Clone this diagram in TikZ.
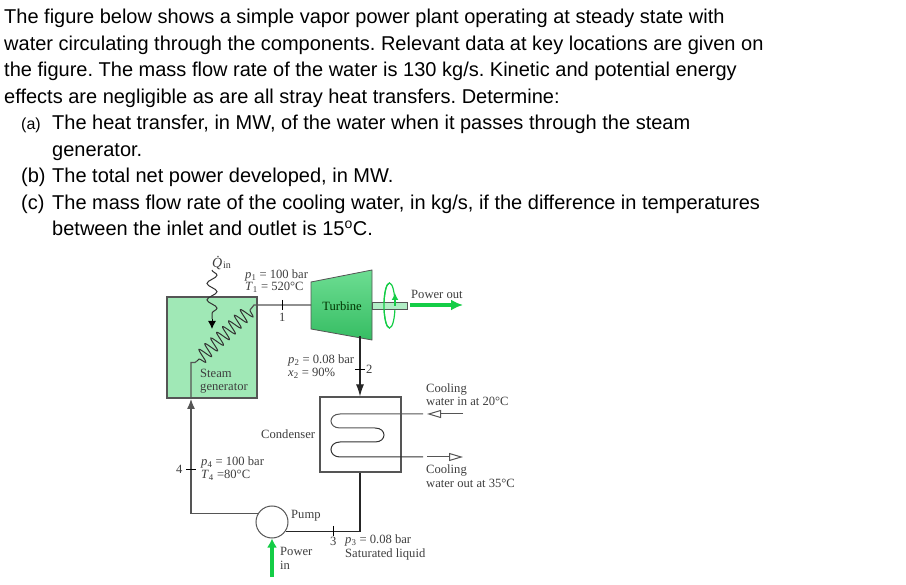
\documentclass[tikz,border=0pt]{standalone}
\usepackage{fontspec}
\setmainfont{Liberation Sans}
\newfontfamily\serifface{Liberation Serif}
\usetikzlibrary{calc,positioning,arrows.meta,decorations.pathmorphing}
\definecolor{sgreen}{RGB}{160,232,182}
\definecolor{tgreen}{RGB}{60,210,110}
\definecolor{pgreen}{RGB}{20,205,70}
\definecolor{lblgray}{RGB}{62,62,62}
\definecolor{linegray}{RGB}{85,85,85}
\tikzset{
  para/.style={anchor=base west,inner sep=0pt,yshift=-0.8pt,font=\fontsize{20}{22}\selectfont\frenchspacing},
  lbl/.style={anchor=base west,inner sep=0pt,yshift=-0.8pt,text=lblgray,font=\serifface\fontsize{12.6}{14}\selectfont},
  pipe/.style={linegray,line width=1.2pt},
  tick/.style={black,line width=0.8pt},
  powerarrow/.style={-{Latex[length=12pt,width=11pt]},pgreen,line width=3.4pt},
  openhead/.style={-{Triangle[open,length=14pt,width=8pt]},linegray,line width=1pt}
}
\begin{document}
\begin{tikzpicture}[x=1pt,y=-1pt,>=Latex]
  \useasboundingbox[fill=white] (0,0) rectangle (906,585);
  % problem text
  \node[para] (txta) at (4,23) {The figure below shows a simple vapor power plant operating at steady state with};
  \node[para] (txtb) at (4,50) {water circulating through the components. Relevant data at key locations are given on};
  \node[para] (txtc) at (4,76) {the figure. The mass flow rate of the water is 130 kg/s. Kinetic and potential energy};
  \node[para] (txtd) at (4,103) {effects are negligible as are all stray heat transfers. Determine:};
  \node[para,font=\fontsize{16}{20}\selectfont] (txte) at (21,129) {(a)};
  \node[para] (txtf) at (52,129) {The heat transfer, in MW, of the water when it passes through the steam};
  \node[para] (txtg) at (52,156) {generator.};
  \node[para] (txth) at (21,182) {(b)};
  \node[para] (txti) at (52,182) {The total net power developed, in MW.};
  \node[para] (txtk) at (21,209) {(c)};
  \node[para] (txtl) at (52,209) {The mass flow rate of the cooling water, in kg/s, if the difference in temperatures};
  \node[para] (txtj) at (52,235) {between the inlet and outlet is 15\textsuperscript{o}C.};

  % steam generator
  \node[draw=linegray,line width=1.2pt,fill=sgreen,minimum width=90pt,minimum height=101pt,inner sep=0pt] (gen) at (212,347.5) {};
  \node[lbl] (genl) at (200,377) {Steam};
  \node[lbl] (genm) at (200,390) {generator};

  % turbine
  \coordinate (tl) at (311,305);
  \coordinate (tb) at (360,336.5);
  \shade[top color=tgreen!75!white,middle color=tgreen,bottom color=tgreen!90!black,draw=linegray,line width=0.8pt]
    (311,282) -- (372,270) -- (372,340) -- (311,329) -- cycle;
  \node[lbl,anchor=center,text=black!80!green] (turb) at (342,305) {Turbine};
  \draw[pgreen,line width=1.2pt] (389.5,305.5) ellipse [x radius=5.5,y radius=22.5];
  \fill[white!60!tgreen,draw=linegray,line width=0.8pt] (372,302) rectangle (407,309);
  \begin{scope}
    \clip (375,275) rectangle (389.5,335);
    \draw[pgreen,line width=1.2pt] (389.5,305.5) ellipse [x radius=5.5,y radius=22.5];
  \end{scope}
  \draw[pgreen,line width=1.4pt,-{Latex[length=7pt,width=7pt]}] (395,306) -- (395,293);
  \coordinate (powa) at (410,305);
  \coordinate (powb) at (463,305);
  \draw[powerarrow] (powa) -- (powb);
  \node[lbl] (powl) at (411,298) {Power out};

  % condenser
  \node[draw=linegray,line width=1.2pt,minimum width=81pt,minimum height=75pt,inner sep=0pt] (cond) at (360.5,434.5) {};
  \node[lbl] (condl) at (261,438) {Condenser};
  \coordinate (cina) at (423,414);
  \coordinate (cinb) at (427,414);
  \coordinate (cinc) at (463,414);
  \coordinate (couta) at (423,457);
  \coordinate (coutb) at (427,457);
  \coordinate (coutc) at (463,457);
  \draw[linegray,line width=1pt] (cina) -- (340,414) .. controls (328,414) and (328,428) .. (340,428) -- (375,428);
  \draw[black!80,line width=1pt] (375,428) .. controls (387,428) and (387,442) .. (375,442) -- (340,442) .. controls (328,442) and (328,457) .. (340,457) -- (couta);
  \draw[openhead] (cinc) -- (cinb);
  \draw[openhead] (coutb) -- (coutc);
  \node[lbl] (cina1) at (426,392) {Cooling};
  \node[lbl] (cina2) at (426,405) {water in at 20°C};
  \node[lbl] (cout1) at (426,473) {Cooling};
  \node[lbl] (cout2) at (426,487) {water out at 35°C};

  % pump
  \node[draw=linegray,line width=1pt,circle,minimum size=32pt,inner sep=0pt] (pump) at (272,522) {};
  \node[lbl] (pumpl) at (291,518) {Pump};
  \coordinate (pinb) at (272,577);
  \draw[powerarrow,-{Latex[length=9pt,width=10pt]}] (pinb) -- (pump.south);
  \node[lbl] (pinl) at (280,555) {Power};
  \node[lbl] (pinm) at (280,569) {in};

  % pipes
  \coordinate (coila) at (250,310);
  \coordinate (coilb) at (197,361);
  \coordinate (gena) at (191,399);
  \draw[pipe] (tl) -- (254,305) -- (coila);
  \draw[black!80,line width=1pt,decorate,decoration={snake,amplitude=7pt,segment length=8.2pt}] (coila) -- (coilb);
  \draw[pipe] (coilb) -- (195,362.5) -- (191,362.5) -- (gen.south -| gena);
  \draw[pipe,-{Latex[length=10pt,width=8pt]}] (pump.150) -| (gena);
  \draw[black!85,line width=1.1pt,-{Latex[length=12pt,width=8pt]}] (tb) -- (cond.north -| tb);
  \draw[black!85,line width=1.1pt] (cond.south -| tb) |- (pump.-34);
  % heat in
  \coordinate (qa) at (212,270);
  \coordinate (qb) at (212,319);
  \coordinate (qc) at (212,329);
  \draw[black!80,line width=1pt,decorate,decoration={snake,amplitude=5pt,segment length=16.5pt}] (qa) -- (qb);
  \draw[black,line width=1pt,-{Latex[length=8pt,width=8pt]}] (qb) -- (qc);
  \node[lbl,font=\serifface\fontsize{14}{14}\selectfont] (qin) at (212,267) {\textit{\.{Q}}};
  \node[lbl,font=\serifface\fontsize{10}{10}\selectfont] (qins) at (223,268) {in};

  % state labels
  \draw[tick] (282,300) -- (282,310);
  \node[lbl] (sa) at (279,321) {1};
  \node[lbl] (pa) at (245,278) {\textit{p}\textsubscript{1} = 100 bar};
  \node[lbl] (ta) at (245,290) {\textit{T}\textsubscript{1} = 520°C};
  \draw[tick] (355,369) -- (365,369);
  \node[lbl] (sb) at (366,373) {2};
  \node[lbl] (pb) at (288,363) {\textit{p}\textsubscript{2} = 0.08 bar};
  \node[lbl] (tb2) at (288,376) {\textit{x}\textsubscript{2} = 90\%};
  \draw[tick] (333,526) -- (333,536);
  \node[lbl] (sc) at (330,545) {3};
  \node[lbl] (pc) at (345,543) {\textit{p}\textsubscript{3} = 0.08 bar};
  \node[lbl] (tc) at (345,557) {Saturated liquid};
  \draw[tick] (186,469) -- (196,469);
  \node[lbl] (sd) at (176,473) {4};
  \node[lbl] (pd) at (201,465) {\textit{p}\textsubscript{4} = 100 bar};
  \node[lbl] (td) at (201,478) {\textit{T}\textsubscript{4} =80°C};
\end{tikzpicture}
\end{document}
